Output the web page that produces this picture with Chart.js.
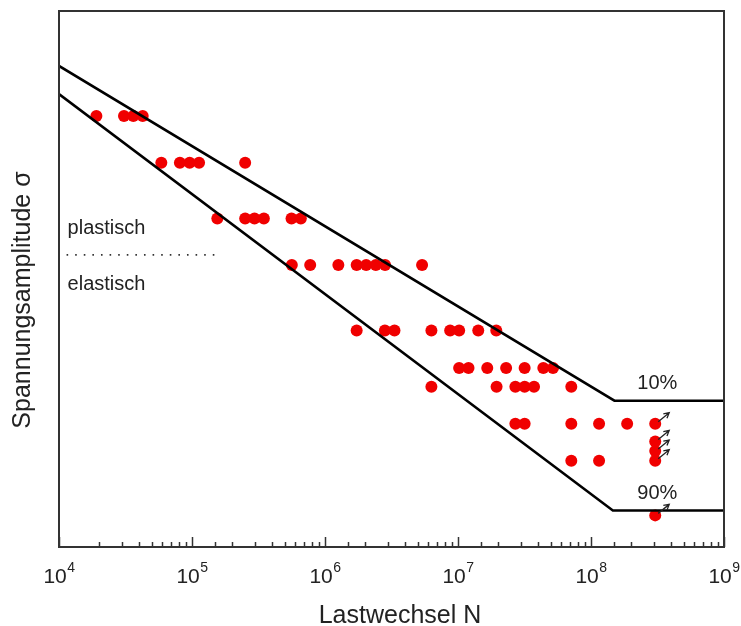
<!DOCTYPE html>
<html>
<head>
<meta charset="utf-8">
<script src="https://cdn.jsdelivr.net/npm/chart.js@4"></script>
<style>
  html, body { margin: 0; padding: 0; background: #fff; }
  #wrap { width: 741px; height: 626px; }
</style>
</head>
<body>
<div id="wrap"><canvas id="snChart"></canvas></div>
<script>
// Woehler (S-N) diagram: stress amplitude vs. number of load cycles

// broken specimens, grouped by stress level (arbitrary units 0..100)
const failCycles = [
  1.91e4, 3.08e4, 3.62e4, 4.26e4,
  5.88e4, 8.11e4, 9.6e4, 1.13e5, 2.51e5,
  1.55e5, 2.51e5, 2.95e5, 3.47e5, 5.6e5, 6.58e5,
  5.63e5, 7.74e5, 1.26e6, 1.73e6, 2.04e6, 2.41e6, 2.83e6, 5.37e6,
  1.73e6, 2.82e6, 3.33e6, 6.31e6, 8.73e6, 1.02e7, 1.42e7, 1.94e7,
  1.02e7, 1.2e7, 1.66e7, 2.3e7, 3.17e7, 4.38e7, 5.18e7,
  6.31e6, 1.95e7, 2.7e7, 3.17e7, 3.73e7, 7.11e7,
  2.7e7, 3.17e7, 7.11e7, 1.15e8, 1.87e8,
  7.11e7, 1.15e8
];
const failStress = [
  80.4, 80.4, 80.4, 80.4,
  71.7, 71.7, 71.7, 71.7, 71.7,
  61.3, 61.3, 61.3, 61.3, 61.3, 61.3,
  52.6, 52.6, 52.6, 52.6, 52.6, 52.6, 52.6, 52.6,
  40.4, 40.4, 40.4, 40.4, 40.4, 40.4, 40.4, 40.4,
  33.4, 33.4, 33.4, 33.4, 33.4, 33.4, 33.4,
  29.9, 29.9, 29.9, 29.9, 29.9, 29.9,
  23.0, 23.0, 23.0, 23.0, 23.0,
  16.1, 16.1
];

// run-outs (not broken, marked with arrows)
const runoutCycles = [3.04e8, 3.04e8, 3.04e8, 3.04e8, 3.04e8];
const runoutStress = [23.0, 19.7, 17.9, 16.1, 5.9];

// scatter band: 10 % and 90 % failure probability
const bandCycles10 = [1e4, 1.5e8, 1e9];
const bandStress10 = [89.75, 27.3, 27.3];
const bandCycles90 = [1e4, 1.46e8, 1e9];
const bandStress90 = [84.5, 6.8, 6.8];

// plastic / elastic boundary
const limitCycles = [1.14e4, 1.66e5];
const limitStress = [54.5, 54.5];

// x axis tick labels 10^n
const decadeExponents = ["4", "5", "6", "7", "8", "9"];

const FONT = "'Liberation Sans', Arial, Helvetica, sans-serif";
Chart.defaults.font.family = FONT;
Chart.defaults.color = "#222";

function toPoints(xs, ys) {
    return xs.map((x, i) => ({ x: x, y: ys[i] }));
}

function isDecade(v) {
    const l = Math.log10(v);
    return Math.abs(l - Math.round(l)) < 1e-9;
}

function arrow(ctx, x1, y1, x2, y2) {
    const a = Math.atan2(y2 - y1, x2 - x1);
    const h = 6;
    ctx.beginPath();
    ctx.moveTo(x1, y1);
    ctx.lineTo(x2, y2);
    ctx.moveTo(x2 - h * Math.cos(a - 0.5), y2 - h * Math.sin(a - 0.5));
    ctx.lineTo(x2, y2);
    ctx.lineTo(x2 - h * Math.cos(a + 0.5), y2 - h * Math.sin(a + 0.5));
    ctx.stroke();
}

// frame, inner ticks, tick labels, arrows and texts
const decorPlugin = {
    id: "decor",
    afterDatasetsDraw(chart) {
        const { ctx, chartArea: a, scales: { x, y } } = chart;
        ctx.save();

        // arrows on the run-outs
        ctx.strokeStyle = "#222";
        ctx.lineWidth = 1.3;
        chart.getDatasetMeta(1).data.forEach(p => {
            arrow(ctx, p.x + 3, p.y - 2, p.x + 14, p.y - 11);
        });

        // ticks pointing into the plot
        ctx.strokeStyle = "#333";
        ctx.lineWidth = 1.5;
        x.ticks.forEach(t => {
            const px = Math.round(x.getPixelForValue(t.value)) + 0.5;
            const len = isDecade(t.value) ? 10 : 5;
            ctx.beginPath();
            ctx.moveTo(px, a.bottom);
            ctx.lineTo(px, a.bottom - len);
            ctx.stroke();
        });

        // frame
        ctx.lineWidth = 2;
        ctx.strokeRect(a.left, a.top, a.width, a.height);

        // decade labels 10^n with raised exponent
        ctx.fillStyle = "#222";
        ctx.textBaseline = "alphabetic";
        ctx.textAlign = "left";
        decadeExponents.forEach(e => {
            const px = x.getPixelForValue(Math.pow(10, Number(e)));
            ctx.font = "21px " + FONT;
            const wBase = ctx.measureText("10").width;
            ctx.font = "14px " + FONT;
            const wExp = ctx.measureText(e).width;
            const left = px - (wBase + wExp) / 2;
            ctx.font = "21px " + FONT;
            ctx.fillText("10", left, a.bottom + 36);
            ctx.font = "14px " + FONT;
            ctx.fillText(e, left + wBase + 0.5, a.bottom + 25);
        });

        // texts inside the plot
        ctx.font = "20px " + FONT;
        ctx.fillText("plastisch", x.getPixelForValue(1.16e4), y.getPixelForValue(58.4));
        ctx.fillText("elastisch", x.getPixelForValue(1.16e4), y.getPixelForValue(48.0));
        ctx.textAlign = "center";
        ctx.fillText("10%", x.getPixelForValue(3.15e8), y.getPixelForValue(29.5));
        ctx.fillText("90%", x.getPixelForValue(3.15e8), y.getPixelForValue(8.9));

        // axis titles
        ctx.font = "25px " + FONT;
        ctx.fillText("Lastwechsel N", 400, 623);
        ctx.translate(30, 300);
        ctx.rotate(-Math.PI / 2);
        ctx.fillText("Spannungsamplitude \u03c3", 0, 0);

        ctx.restore();
    }
};

const ctx = document.getElementById("snChart").getContext("2d");
const chart = new Chart(ctx, {
    type: "scatter",
    data: {
        datasets: [
            {
                label: "Bruch",
                data: toPoints(failCycles, failStress),
                backgroundColor: "rgb(240, 0, 0)",
                borderWidth: 0,
                pointRadius: 6,
                order: 2
            },
            {
                label: "Durchläufer",
                data: toPoints(runoutCycles, runoutStress),
                backgroundColor: "rgb(240, 0, 0)",
                borderWidth: 0,
                pointRadius: 6,
                order: 2
            },
            {
                label: "10%",
                data: toPoints(bandCycles10, bandStress10),
                showLine: true,
                borderColor: "#000",
                borderWidth: 2.5,
                pointRadius: 0,
                order: 1
            },
            {
                label: "90%",
                data: toPoints(bandCycles90, bandStress90),
                showLine: true,
                borderColor: "#000",
                borderWidth: 2.5,
                pointRadius: 0,
                order: 1
            },
            {
                label: "Grenze",
                data: toPoints(limitCycles, limitStress),
                showLine: true,
                borderColor: "#333",
                borderWidth: 1.6,
                borderDash: [1.6, 7],
                pointRadius: 0,
                order: 1
            }
        ]
    },
    options: {
        responsive: true,
        maintainAspectRatio: false,
        animation: false,
        events: [],
        layout: { padding: { top: 11, right: 17, left: 0, bottom: 0 } },
        plugins: {
            legend: { display: false },
            tooltip: { enabled: false }
        },
        scales: {
            x: {
                type: "logarithmic",
                min: 1e4,
                max: 1e9,
                border: { display: false },
                grid: { drawOnChartArea: false, drawTicks: false },
                ticks: { display: false, autoSkip: false },
                afterFit: (scale) => { scale.height = 79; }
            },
            y: {
                type: "linear",
                min: 0,
                max: 100,
                border: { display: false },
                grid: { drawOnChartArea: false, drawTicks: false },
                ticks: { display: false },
                afterFit: (scale) => { scale.width = 59; }
            }
        }
    },
    plugins: [decorPlugin]
});
</script>
</body>
</html>
